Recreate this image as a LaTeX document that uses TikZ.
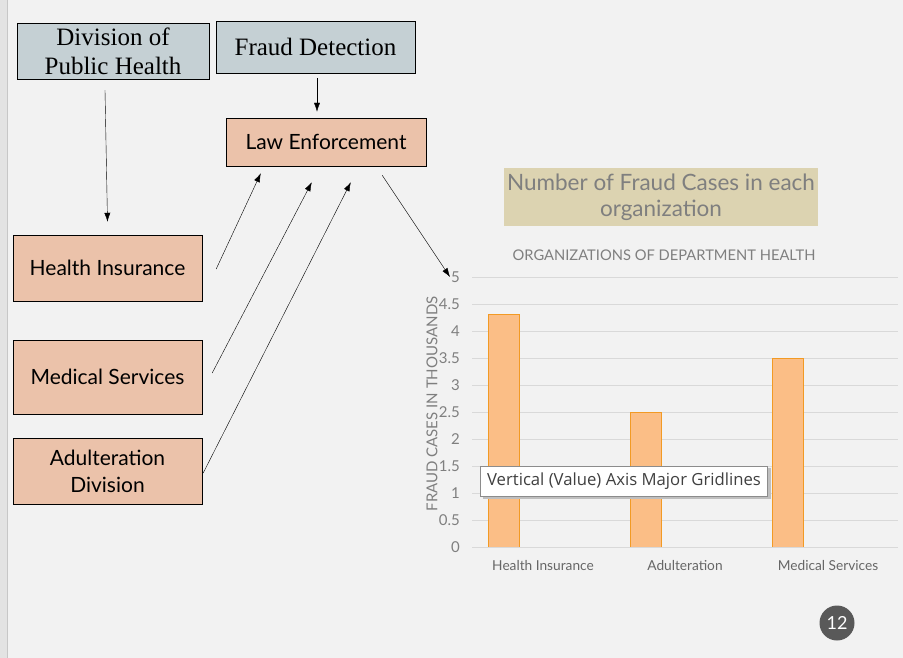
\documentclass[tikz,border=0pt]{standalone}
\usepackage{fontspec}
\usepackage{tikz}
\usetikzlibrary{arrows.meta}
\setmainfont{Liberation Serif}
\newfontfamily\gillfont{Lato}
\newfontfamily\tipfont{Open Sans}
\definecolor{pagebg}{HTML}{F2F2F2}
\definecolor{stripbg}{HTML}{E3E3E3}
\definecolor{boxblue}{HTML}{C5D0D4}
\definecolor{boxpink}{HTML}{EBC2AA}
\definecolor{titletan}{HTML}{DCD3B1}
\definecolor{chartgray}{HTML}{7F7F7F}
\definecolor{gridgray}{HTML}{D9D9D9}
\definecolor{barfill}{HTML}{FBBE86}
\definecolor{barline}{HTML}{F29A24}
\definecolor{badge}{HTML}{595959}
\tikzset{
  topbox/.style = {draw, fill=boxblue, minimum width=192, minimum height=54, inner sep=0,
    align=center, font=\fontsize{25}{29}\selectfont},
  orgbox/.style = {draw, fill=boxpink, minimum width=189, inner sep=0,
    align=center, font=\gillfont\fontsize{21}{27}\selectfont},
  arr/.style = {-{Latex[length=9pt, width=6pt]}},
  ticklbl/.style = {anchor=east, inner sep=0, text=chartgray, font=\gillfont\fontsize{15}{17}\selectfont},
  catlbl/.style = {inner sep=0, text=black!60, font=\gillfont\fontsize{13.7}{16}\selectfont},
  bar/.style = {fill=barfill, draw=barline, thick}
}

\begin{document}
\begin{tikzpicture}[x=1pt, y=-1pt]
    \fill [pagebg] (0, 0) rectangle (903, 658);
    \useasboundingbox (0, 0) rectangle (903, 658);
    \fill [stripbg] (0, 0) rectangle (7, 658);
    \draw [black!22] (7, 0) -- (7, 658);

    % boxes on the left
    \node [topbox, minimum height=56] (dph) at (113, 51) {Division of\\Public Health};
    \node [topbox, minimum width=199, minimum height=52] (fd) at (315.5, 47) {Fraud Detection};
    \node [orgbox, minimum width=200, minimum height=48] (le) at (326, 142) {Law Enforcement};
    \node [orgbox, minimum height=66] (hi) at (107.5, 268) {Health Insurance};
    \node [orgbox, minimum height=74] (ms) at (107.5, 377) {Medical Services};
    \node [orgbox, minimum height=66] (ad) at (107.5, 471) {Adulteration\\Division};

    \coordinate (chart top) at (450, 277);

    \draw [arr] ([xshift=-8pt, yshift=-11pt]dph.south) -- ([yshift=13pt]hi.north);
    \draw [arr] ([xshift=1.5pt, yshift=-5pt]fd.south) -- ([xshift=-9pt, yshift=6pt]le.north);
    \draw [arr] ([xshift=14pt, yshift=-1pt]hi.east) -- ([xshift=35pt, yshift=-7pt]le.south west);
    \draw [arr] ([xshift=10pt, yshift=4pt]ms.east) -- ([xshift=86pt, yshift=-16pt]le.south west);
    \draw [arr] ([xshift=1pt, yshift=-2pt]ad.east) -- ([xshift=125pt, yshift=-16pt]le.south west);
    \draw [arr] ([xshift=-44pt, yshift=-9pt]le.south east) -- (chart top);

    % chart
    \node [fill=titletan, minimum width=314, minimum height=58, inner sep=0, align=center,
      text=chartgray, font=\gillfont\fontsize{22.5}{26}\selectfont] (title) at (661, 197)
      {Number of Fraud Cases in each\\organization};
    \node [text=chartgray, inner sep=0, font=\gillfont\fontsize{14.7}{17}\selectfont] (subtitle) at (664, 255)
      {ORGANIZATIONS OF DEPARTMENT HEALTH};

    \foreach \v [count=\i] in {0, 0.5, 1, 1.5, 2, 2.5, 3, 3.5, 4, 4.5, 5} {
      \draw [gridgray] (472, 547 - 54 * \v) -- (898, 547 - 54 * \v);
      \node [ticklbl] (tick\i) at (460, 547 - 54 * \v) {\v};
    }

    \fill [bar] (488, 547) rectangle (519, 547 - 54 * 4.3);
    \fill [bar] (630, 547) rectangle (661, 547 - 54 * 2.5);
    \fill [bar] (772, 547) rectangle (803, 547 - 54 * 3.5);
    \draw [gridgray] (472, 547) -- (898, 547);

    \node [catlbl] (cat hi) at (543, 566) {Health Insurance};
    \node [catlbl] (cat ad) at (685, 566) {Adulteration};
    \node [catlbl] (cat ms) at (828, 566) {Medical Services};

    \node [rotate=90, inner sep=0, text=chartgray, font=\gillfont\fontsize{15}{17}\selectfont] (ytitle)
      at (432, 404) {FRAUD CASES IN THOUSANDS};

    % tooltip
    \fill [black!25] (483, 468) rectangle (771, 499);
    \node [draw=black!45, fill=white, minimum width=287, minimum height=30, inner sep=0,
      text=black!75, font=\tipfont\fontsize{16.7}{19}\selectfont] (tip) at (624, 481) {Vertical (Value) Axis Major Gridlines};

    % page number
    \node [circle, fill=badge, minimum size=35, inner sep=0, text=white,
      font=\gillfont\fontsize{18}{20}\selectfont] (page) at (837, 623) {12};
\end{tikzpicture}
\end{document}
